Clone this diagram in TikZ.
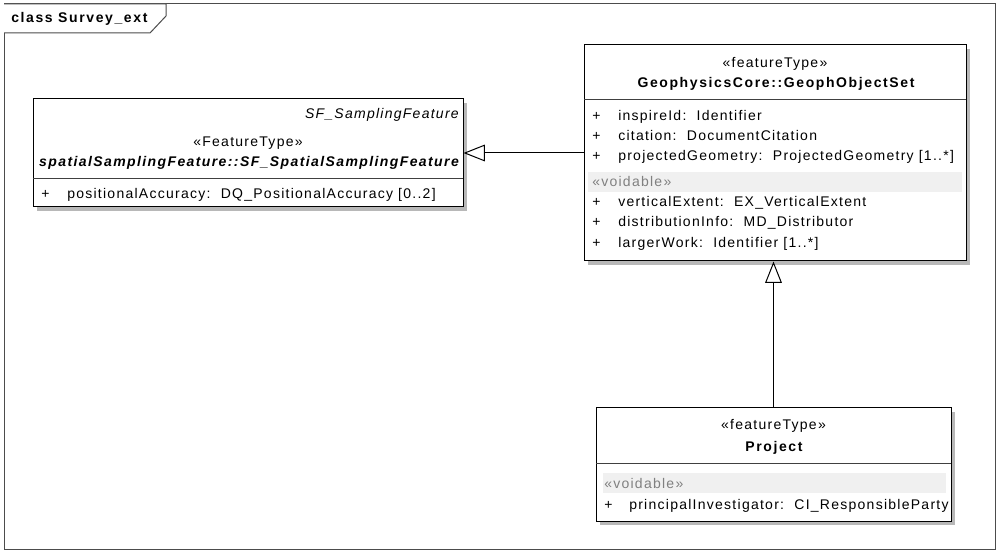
\documentclass[tikz,border=0pt]{standalone}
\usepackage{fontspec}
\setmainfont{Liberation Sans}[LetterSpace=9, BoldFeatures={LetterSpace=11.5}, BoldItalicFeatures={LetterSpace=10}, ItalicFeatures={LetterSpace=9}]
\usetikzlibrary{fit,arrows.meta}
\begin{document}
\begin{tikzpicture}[x=0.75pt,y=-0.75pt,
  umlbox/.style={draw=black, line width=0.75pt, inner sep=0pt, fill=white},
  shadowbox/.style={fill=black!28, draw=none},
  txt/.style={inner sep=0pt, font=\fontsize{10.5pt}{12pt}\selectfont},
  sep/.style={draw=black!75, line width=0.75pt},
  band/.style={fill=black!6, draw=none},
  gen/.style={draw=black, line width=0.75pt, -{Triangle[length=16pt, width=12.5pt, fill=white, line width=0.75pt]}}
]
\useasboundingbox (0,0) rectangle (999,555);
% frame
\draw[black!70, line width=0.75pt] (4,4) rectangle (995,549);
\draw[black!70, line width=0.75pt, fill=white] (4,4) -- (166,4) -- (166,16) -- (150,33) -- (4,33);
\node[txt, anchor=base west, font=\fontsize{10.5pt}{12pt}\selectfont\bfseries] (title) at (11,22.5) {class Survey\_ext};

% left box
\fill[shadowbox] (37,103) rectangle (467,211);
\node[umlbox, fit={(33,99) (463,207)}] (sf) {};
\draw[sep] (33,179) -- (463,179);
\node[txt, anchor=base east, font=\fontsize{10.5pt}{12pt}\selectfont\itshape] (sfpar) at (459,119) {SF\_SamplingFeature};
\node[txt, anchor=base] (sfst) at (248,146.5) {«FeatureType»};
\node[txt, anchor=base, font=\fontsize{10.5pt}{12pt}\selectfont\bfseries\itshape] (sfname) at (249,166.5) {spatialSamplingFeature::SF\_SpatialSamplingFeature};
\node[txt, anchor=base west] (sfp1) at (41,199) {+};
\node[txt, anchor=base west] (sfa1) at (67,199) {positionalAccuracy:\ \ DQ\_PositionalAccuracy [0..2]};

% GeophObjectSet box
\fill[shadowbox] (588,49) rectangle (970,265);
\node[umlbox, fit={(584,45) (966,261)}] (geo) {};
\draw[sep] (584,100) -- (966,100);
\node[txt, anchor=base] (geost) at (775,68) {«featureType»};
\node[txt, anchor=base, font=\fontsize{10.5pt}{12pt}\selectfont\bfseries] (geoname) at (776,87.5) {GeophysicsCore::GeophObjectSet};
\node[txt, anchor=base west] (gp1) at (592,121) {+};
\node[txt, anchor=base west] (ga1) at (618,121) {inspireId:\ \ Identifier};
\node[txt, anchor=base west] (gp2) at (592,141) {+};
\node[txt, anchor=base west] (ga2) at (618,141) {citation:\ \ DocumentCitation};
\node[txt, anchor=base west] (gp3) at (592,161) {+};
\node[txt, anchor=base west] (ga3) at (618,161) {projectedGeometry:\ \ ProjectedGeometry [1..*]};
\fill[band] (588,172) rectangle (962,192);
\node[txt, anchor=base west, text=black!50] (gvoid) at (592,187) {«voidable»};
\node[txt, anchor=base west] (gp4) at (592,207) {+};
\node[txt, anchor=base west] (ga4) at (618,207) {verticalExtent:\ \ EX\_VerticalExtent};
\node[txt, anchor=base west] (gp5) at (592,227) {+};
\node[txt, anchor=base west] (ga5) at (618,227) {distributionInfo:\ \ MD\_Distributor};
\node[txt, anchor=base west] (gp6) at (592,248) {+};
\node[txt, anchor=base west] (ga6) at (618,248) {largerWork:\ \ Identifier [1..*]};

% Project box
\fill[shadowbox] (600,412) rectangle (955,525);
\node[umlbox, fit={(596,408) (951,521)}] (proj) {};
\draw[sep] (596,464) -- (951,464);
\node[txt, anchor=base] (projst) at (773.5,430) {«featureType»};
\node[txt, anchor=base, font=\fontsize{10.5pt}{12pt}\selectfont\bfseries] (projname) at (774,451) {Project};
\fill[band] (603,473) rectangle (946,493);
\node[txt, anchor=base west, text=black!50] (pvoid) at (604,488.5) {«voidable»};
\node[txt, anchor=base west] (pp1) at (604,509.5) {+};
\node[txt, anchor=base west] (pa1) at (629,509.5) {principalInvestigator:\ \ CI\_ResponsibleParty};

% generalizations
\draw[gen] (geo.west) -- (sf.east);
\draw[gen] (proj.north) -- (proj.north |- geo.south);
\end{tikzpicture}
\end{document}
